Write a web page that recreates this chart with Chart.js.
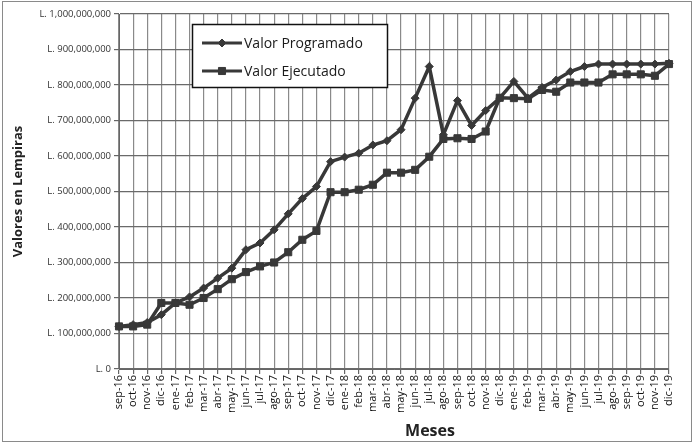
<!DOCTYPE html>
<html>
<head>
<meta charset="utf-8">
<script src="https://cdn.jsdelivr.net/npm/chart.js@4/dist/chart.umd.min.js"></script>
<style>
html,body{margin:0;padding:0;background:#fff;}
#wrap{position:relative;width:696px;height:446px;}
#frame{position:absolute;left:2px;top:1px;width:690px;height:441px;border:1px solid #8a8a8a;box-sizing:border-box;pointer-events:none;}
</style>
</head>
<body>
<div id="wrap">
<canvas id="c" width="696" height="446"></canvas>
<div id="frame"></div>
</div>
<script>
const categories = ["sep-16","oct-16","nov-16","dic-16","ene-17","feb-17","mar-17","abr-17","may-17","jun-17","jul-17","ago-17","sep-17","oct-17","nov-17","dic-17","ene-18","feb-18","mar-18","abr-18","may-18","jun-18","jul-18","ago-18","sep-18","oct-18","nov-18","dic-18","ene-19","feb-19","mar-19","abr-19","may-19","jun-19","jul-19","ago-19","sep-19","oct-19","nov-19","dic-19"];
const valorProgramado = [120e6,125e6,131e6,153e6,186e6,203e6,228e6,256e6,284e6,336e6,355e6,392e6,437e6,480e6,514e6,584e6,597e6,608e6,631e6,643e6,674e6,763e6,852e6,660e6,756e6,686e6,728e6,763e6,810e6,763e6,793e6,814e6,838e6,852e6,859e6,859e6,859e6,859e6,859e6,861e6];
const valorEjecutado = [120e6,120e6,125e6,186e6,186e6,181e6,200e6,225e6,253e6,273e6,289e6,300e6,329e6,364e6,389e6,498e6,498e6,505e6,519e6,553e6,553e6,561e6,598e6,648e6,650e6,648e6,669e6,764e6,763e6,761e6,786e6,781e6,807e6,807e6,807e6,830e6,830e6,830e6,826e6,859e6];
const seriesNames = ["Valor Programado","Valor Ejecutado"];
const yTitle = "Valores en Lempiras";
const xTitle = "Meses";

const lineColor = '#383838';
const FONT = "'Open Sans', 'Noto Sans', sans-serif";

function fmt(v){
  return 'L. ' + Math.round(v).toLocaleString('en-US');
}

const extras = {
  id: 'extras',
  afterDraw(chart){
    const ctx = chart.ctx;
    ctx.save();
    // x title
    ctx.fillStyle = '#222';
    ctx.font = "bold 16px " + FONT;
    ctx.textAlign = 'center';
    ctx.textBaseline = 'middle';
    ctx.fillText(xTitle, 430, 431);
    // legend box
    const bx = 192, by = 24, bw = 195, bh = 63;
    ctx.fillStyle = '#fff';
    ctx.fillRect(bx, by, bw, bh);
    ctx.strokeStyle = '#111';
    ctx.lineWidth = 1.5;
    ctx.strokeRect(bx + 0.5, by + 0.5, bw, bh);
    const items = [
      {name: seriesNames[0], y: by + 19, style: 'rectRot', r: 4},
      {name: seriesNames[1], y: by + 47, style: 'rect', r: 5}
    ];
    items.forEach(it => {
      ctx.strokeStyle = lineColor;
      ctx.lineWidth = 3;
      ctx.beginPath();
      ctx.moveTo(bx + 10, it.y);
      ctx.lineTo(bx + 50, it.y);
      ctx.stroke();
      ctx.fillStyle = lineColor;
      ctx.lineWidth = 1;
      Chart.helpers.drawPoint(ctx, {pointStyle: it.style, radius: it.r, borderWidth: 1, rotation: 0}, bx + 30, it.y);
      ctx.fillStyle = '#1a1a1a';
      ctx.font = "14px " + FONT;
      ctx.textAlign = 'left';
      ctx.textBaseline = 'middle';
      ctx.fillText(it.name, bx + 52, it.y + 1);
    });
    ctx.restore();
  }
};

new Chart(document.getElementById('c'), {
  type: 'line',
  data: {
    labels: categories,
    datasets: [
      {
        label: seriesNames[0],
        data: valorProgramado,
        borderColor: lineColor,
        backgroundColor: lineColor,
        borderWidth: 3.5,
        pointStyle: 'rectRot',
        pointRadius: 4,
        pointBorderWidth: 1,
        tension: 0
      },
      {
        label: seriesNames[1],
        data: valorEjecutado,
        borderColor: lineColor,
        backgroundColor: lineColor,
        borderWidth: 3.5,
        pointStyle: 'rect',
        pointRadius: 5,
        pointBorderWidth: 1,
        tension: 0
      }
    ]
  },
  options: {
    responsive: false,
    animation: false,
    devicePixelRatio: 1,
    layout: {padding: {left: 0, top: 14, right: 27, bottom: 0}},
    plugins: {
      legend: {display: false},
      tooltip: {enabled: false}
    },
    scales: {
      x: {
        type: 'category',
        offset: false,
        afterFit(s){ s.height = 77; },
        grid: {color: '#8a8a8a', lineWidth: 1.2, tickLength: 5, drawTicks: true, tickColor: '#666'},
        border: {color: '#666', width: 1},
        ticks: {
          autoSkip: false,
          maxRotation: 90,
          minRotation: 90,
          padding: 1,
          color: '#111',
          font: {family: FONT, size: 11}
        }
      },
      y: {
        min: 0,
        max: 1000000000,
        afterFit(s){ s.width = 119; },
        grid: {color: '#6a6a6a', lineWidth: 1.2, tickLength: 5, tickColor: '#666'},
        border: {color: '#666', width: 1},
        ticks: {
          stepSize: 100000000,
          padding: 3,
          color: '#333',
          font: {family: FONT, size: 9.5},
          callback: v => fmt(v)
        },
        title: {
          display: true,
          text: yTitle,
          color: '#222',
          font: {family: FONT, size: 13, weight: 'bold'},
          padding: {top: 10, bottom: 0}
        }
      }
    }
  },
  plugins: [extras]
});
</script>
</body>
</html>
